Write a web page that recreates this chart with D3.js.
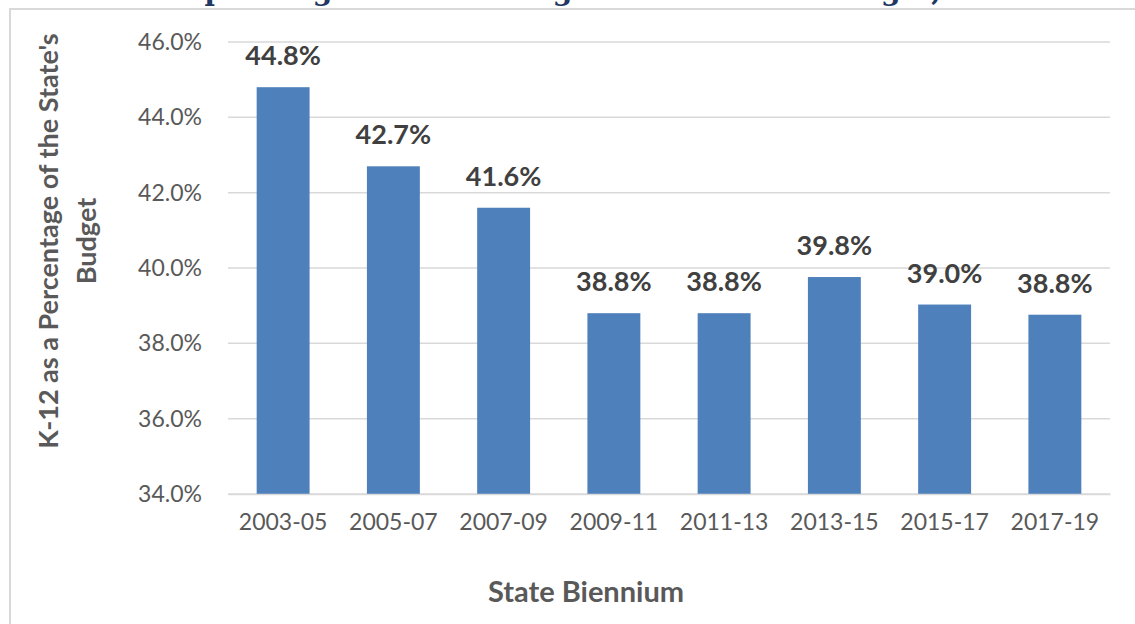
<!DOCTYPE html>
<html><head><meta charset="utf-8">
<script src="https://cdn.jsdelivr.net/npm/d3@7"></script>
<style>html,body{margin:0;padding:0;background:#fff;overflow:hidden}</style>
</head><body>
<svg id="c" width="1135" height="624"></svg>
<script>
const categories = ["2003-05","2005-07","2007-09","2009-11","2011-13","2013-15","2015-17","2017-19"];
const values = [44.8, 42.7, 41.6, 38.8, 38.8, 39.76, 39.03, 38.76];
const yTicks = [34, 36, 38, 40, 42, 44, 46];
const titleText = "K-12 Spending as a Percentage of the State's Budget, 2003-2019";
const yTitleLines = ["K-12 as a Percentage of the State's", "Budget"];
const xTitle = "State Biennium";

const svg = d3.select("#c");
const font = "Lato, 'Open Sans', sans-serif";
const margin = {left: 228, right: 25, top: 42, bottom: 130};
const W = 1135, H = 624;

// panel border
svg.append("rect").attr("x", 10).attr("y", 9).attr("width", 1140).attr("height", 640)
  .attr("fill", "none").attr("stroke", "#d9d9d9").attr("stroke-width", 2);

// cut-off title (only descenders visible, as in the reference)
svg.append("text").attr("x", 610).attr("y", 0).attr("text-anchor", "middle")
  .attr("font-family", "'DejaVu Serif', serif").attr("font-weight", "bold")
  .attr("font-size", 28).attr("fill", "#1f3864").text(titleText);

const x = d3.scaleBand().domain(categories).range([margin.left, W - margin.right]).paddingInner(0.52).paddingOuter(0.26);
const y = d3.scaleLinear().domain([34, 46]).range([H - margin.bottom, margin.top]);

// gridlines
svg.append("g").selectAll("line").data(yTicks).join("line")
  .attr("x1", margin.left).attr("x2", W - margin.right)
  .attr("y1", d => y(d)).attr("y2", d => y(d))
  .attr("stroke", "#d9d9d9").attr("stroke-width", 1.5);

// y axis labels
const yAxis = d3.axisLeft(y).tickValues(yTicks).tickFormat(d => d.toFixed(1) + "%").tickSize(0).tickPadding(26);
const ya = svg.append("g").attr("transform", `translate(${margin.left},0)`).call(yAxis);
ya.select(".domain").remove();
ya.selectAll("text").attr("font-family", font).attr("font-size", 23).attr("fill", "#595959");

// bars
svg.append("g").selectAll("rect").data(values).join("rect")
  .attr("x", (d, i) => x(categories[i])).attr("width", x.bandwidth())
  .attr("y", d => y(d)).attr("height", d => y(34) - y(d))
  .attr("fill", "#4e80bc");

// x axis
const xAxis = d3.axisBottom(x).tickSize(0).tickPadding(20);
const xa = svg.append("g").attr("transform", `translate(0,${y(34)})`).call(xAxis);
xa.select(".domain").attr("stroke", "#d9d9d9").attr("stroke-width", 1.5);
xa.selectAll("text").attr("font-family", font).attr("font-size", 23).attr("fill", "#595959");

// value labels
svg.append("g").selectAll("text").data(values).join("text")
  .attr("x", (d, i) => x(categories[i]) + x.bandwidth() / 2)
  .attr("y", d => y(d) - 22).attr("text-anchor", "middle")
  .attr("font-family", font).attr("font-weight", "bold").attr("font-size", 27)
  .attr("fill", "#404040").text(d => d.toFixed(1) + "%");

// y title
const yt = svg.append("text").attr("transform", `translate(58,241) rotate(-90)`)
  .attr("text-anchor", "middle").attr("font-family", font).attr("font-weight", "bold")
  .attr("font-size", 27).attr("fill", "#595959");
yTitleLines.forEach((t, i) => yt.append("tspan").attr("x", 0).attr("dy", i === 0 ? 0 : 38).text(t));

// x title
svg.append("text").attr("x", 586).attr("y", 602).attr("text-anchor", "middle")
  .attr("font-family", font).attr("font-weight", "bold").attr("font-size", 29)
  .attr("fill", "#595959").text(xTitle);
</script>
</body></html>
